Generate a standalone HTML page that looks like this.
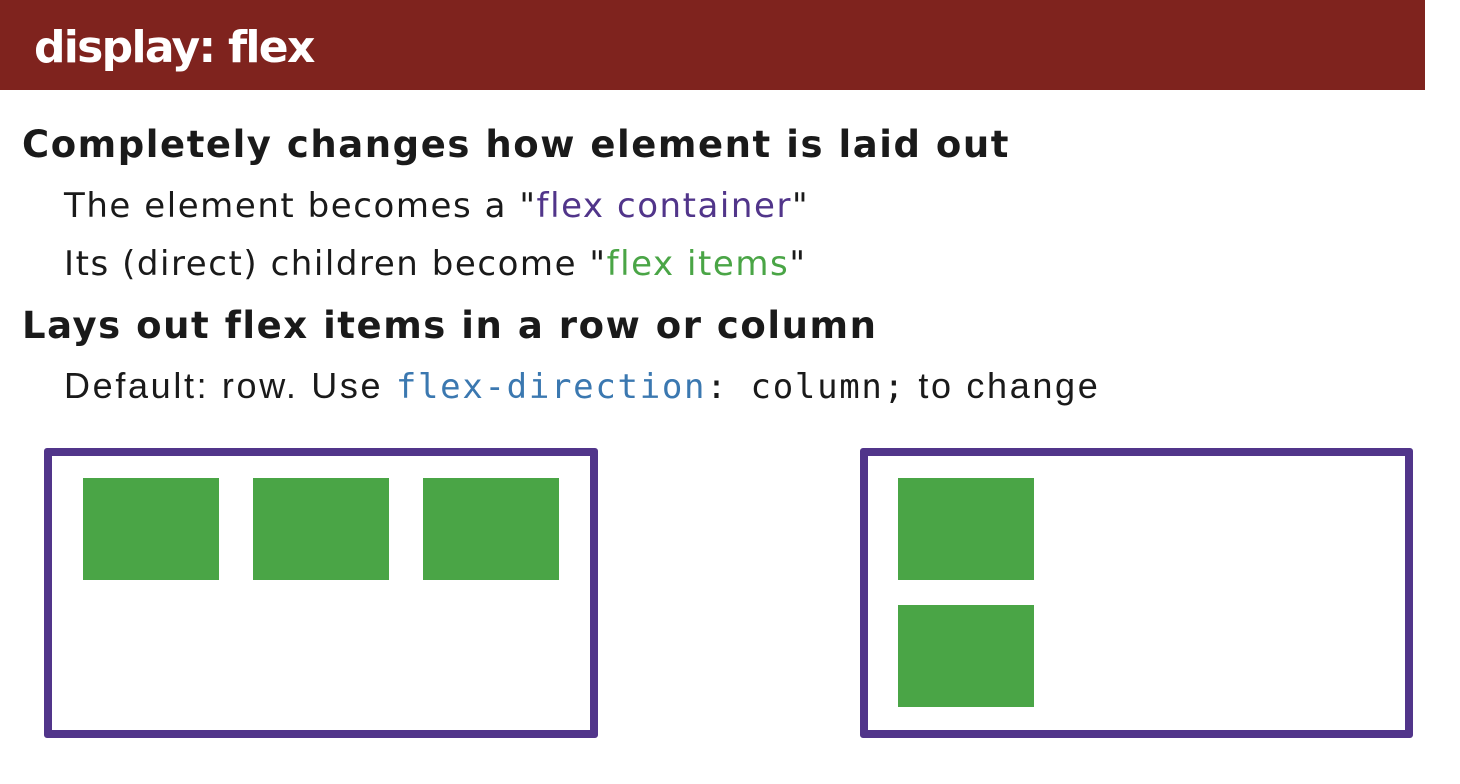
<!DOCTYPE html>
<html><head><style>
body{margin:0;width:1460px;height:784px;background:#fff;position:relative;overflow:hidden;font-family:"DejaVu Sans",sans-serif;color:#1a1a1a}
.hdr{position:absolute;left:0;top:0;width:1425px;height:90px;background:#7f231e}
.hdr span{position:absolute;left:34px;top:22px;color:#fff;font:bold 44px "DejaVu Sans",sans-serif;letter-spacing:-1.7px}
.t{position:absolute;white-space:nowrap}
.h{font-weight:bold;font-size:37px;left:22px;letter-spacing:1.55px}
.s{font-size:34px;left:64px;letter-spacing:1.55px}
.box{position:absolute;border:8px solid #51358a;border-radius:3px;box-sizing:border-box}
.g{position:absolute;background:#4aa546;width:136px;height:102px}
</style></head><body>
<div class="hdr"><span>display: flex</span></div>
<div class="t h" style="top:123px">Completely changes how element is laid out</div>
<div class="t s" style="top:186px">The element becomes a "<span style="color:#51358a">flex container</span>"</div>
<div class="t s" style="top:244px">Its (direct) children become "<span style="color:#4aa546">flex items</span>"</div>
<div class="t h" style="top:304px">Lays out flex items in a row or column</div>
<div class="t s" style="top:365px;font-family:'Liberation Sans',sans-serif;font-size:36px;letter-spacing:2.65px">Default: row. Use <span style="font-family:'DejaVu Sans Mono',monospace;font-size:34px;letter-spacing:1.7px"><span style="color:#3b78b0">flex-direction</span>: column;</span> to change</div>
<div class="box" style="left:44px;top:448px;width:554px;height:290px"></div>
<div class="g" style="left:83px;top:478px"></div>
<div class="g" style="left:253px;top:478px"></div>
<div class="g" style="left:423px;top:478px"></div>
<div class="box" style="left:860px;top:448px;width:553px;height:290px"></div>
<div class="g" style="left:898px;top:478px"></div>
<div class="g" style="left:898px;top:605px"></div>
</body></html>
